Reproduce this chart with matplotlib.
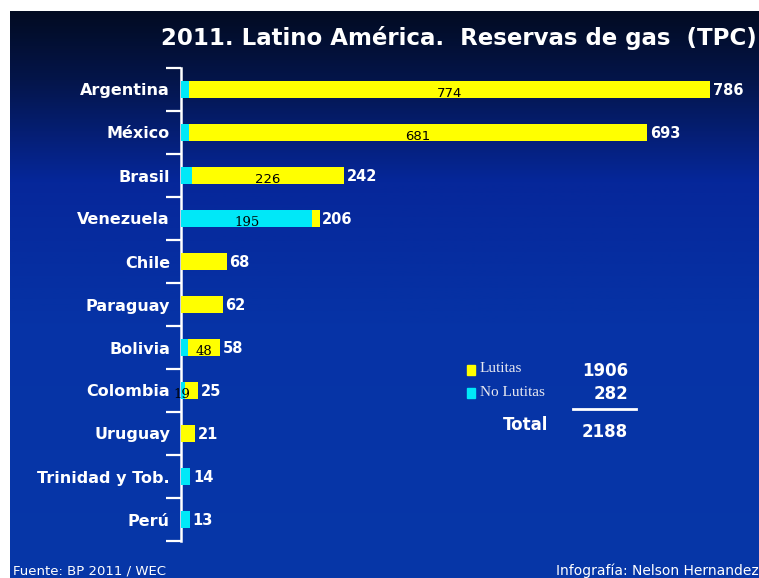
import numpy as np
import matplotlib
matplotlib.use("Agg")
import matplotlib.pyplot as plt
from matplotlib.patches import Rectangle
from matplotlib.colors import LinearSegmentedColormap

# ---------------------------------------------------------------------------
# Data (TPC)
# ---------------------------------------------------------------------------
countries = ["Argentina", "México", "Brasil", "Venezuela", "Chile", "Paraguay",
             "Bolivia", "Colombia", "Uruguay", "Trinidad y Tob.", "Perú"]
no_lutitas = [12, 12, 16, 195, 0, 0, 10, 6, 0, 14, 13]
lutitas = [774, 681, 226, 11, 68, 62, 48, 19, 21, 0, 0]
totals = [786, 693, 242, 206, 68, 62, 58, 25, 21, 14, 13]
inner_labels = ["774", "681", "226", "195", "", "", "48", "19", "", "", ""]
sum_lutitas = 1906
sum_no_lutitas = 282
sum_total = 2188

YELLOW = "#ffff00"
CYAN = "#00e8f8"
W, H = 759, 578

fig = plt.figure(figsize=(W / 100, H / 100), dpi=100)
fig.patch.set_facecolor("white")

# background gradient (slide)
bg = fig.add_axes([10 / W, 0, 749 / W, 567 / H])
cmap = LinearSegmentedColormap.from_list(
    "slide", [(0.0, "#020b22"), (0.12, "#04154a"), (0.3, "#06279a"),
              (0.55, "#0633a6"), (1.0, "#0737a8")])
grad = np.linspace(0, 1, 256).reshape(-1, 1)
bg.imshow(grad, aspect="auto", cmap=cmap, extent=[0, 1, 0, 1], origin="upper")
bg.set_axis_off()

# main chart
ax = fig.add_axes([181 / W, 1 - 541 / H, 572 / W, 473 / H])
ax.set_facecolor("none")
y = np.arange(len(countries))
ax.barh(y, no_lutitas, height=0.4, color=CYAN, zorder=3)
ax.barh(y, lutitas, left=no_lutitas, height=0.4, color=YELLOW, zorder=3)

ax.set_xlim(0, 850)
ax.set_ylim(len(countries) - 0.5, -0.5)

for i in range(len(countries)):
    ax.text(totals[i] + 4, i + 0.02, str(totals[i]), color="white",
            fontsize=10.5, fontweight="bold", va="center", ha="left")
    lab = inner_labels[i]
    if lab:
        if no_lutitas[i] > lutitas[i]:
            cx = no_lutitas[i] / 2
        else:
            cx = no_lutitas[i] + lutitas[i] / 2
        fam = "DejaVu Serif" if lutitas[i] < 60 else "DejaVu Sans"
        if lab == "19":
            cx = 1
        ax.text(cx, i + 0.1, lab, color="black", fontsize=9.5, family=fam,
                va="center", ha="center", zorder=4)

ax.set_yticks(y)
ax.set_yticklabels(countries, color="white", fontsize=11.5, fontweight="bold")
ax.set_yticks(np.arange(-0.5, len(countries)), minor=True)
ax.tick_params(axis="y", which="major", length=0, pad=8)
ax.tick_params(axis="y", which="minor", length=11, width=1.6, color="white",
               direction="out")
ax.set_xticks([])
for s in ["top", "right", "bottom"]:
    ax.spines[s].set_visible(False)
ax.spines["left"].set_color("white")
ax.spines["left"].set_linewidth(1.8)

# title
fig.text(0.997, 1 - 38 / H, "2011. Latino América.  Reservas de gas  (TPC)",
         color="white", fontsize=16.5, fontweight="bold", ha="right", va="center")

# legend / totals block
fig.patches.append(Rectangle((467 / W, 1 - 375 / H), 8 / W, 10 / H,
                             transform=fig.transFigure, color=YELLOW))
fig.patches.append(Rectangle((467 / W, 1 - 398 / H), 8 / W, 10 / H,
                             transform=fig.transFigure, color=CYAN))
fig.text(480 / W, 1 - 368 / H, "Lutitas", color="#e8e8f0", fontsize=11,
         family="Liberation Serif", va="center")
fig.text(480 / W, 1 - 393 / H, "No Lutitas", color="#e8e8f0", fontsize=11,
         family="Liberation Serif", va="center")
fig.text(628 / W, 1 - 371 / H, str(sum_lutitas), color="white", fontsize=12,
         fontweight="bold", ha="right", va="center")
fig.text(628 / W, 1 - 394 / H, str(sum_no_lutitas), color="white", fontsize=12,
         fontweight="bold", ha="right", va="center")
fig.lines.append(plt.Line2D([573 / W, 636 / W], [1 - 409 / H, 1 - 409 / H],
                            transform=fig.transFigure, color="white", lw=2))
fig.text(548 / W, 1 - 425 / H, "Total", color="white", fontsize=12,
         fontweight="bold", ha="right", va="center")
fig.text(628 / W, 1 - 432 / H, str(sum_total), color="white", fontsize=12,
         fontweight="bold", ha="right", va="center")

# footer
fig.text(13 / W, 1 - 571 / H, "Fuente: BP 2011 / WEC", color="white",
         fontsize=9.5, va="center")
fig.text(1.0, 1 - 571 / H, "Infografía: Nelson Hernandez", color="white",
         fontsize=10, va="center", ha="right")

fig.savefig("out.png", dpi=100, facecolor=fig.get_facecolor())
